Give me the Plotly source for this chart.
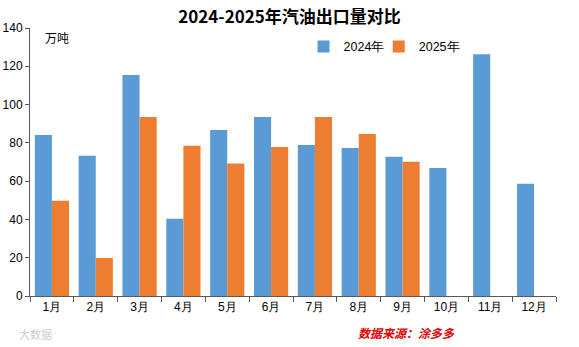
import plotly.graph_objects as go

months = ["1月", "2月", "3月", "4月", "5月", "6月", "7月", "8月", "9月", "10月", "11月", "12月"]
y2024 = [84.1, 73.2, 115.4, 40.4, 86.7, 93.5, 78.9, 77.3, 72.7, 66.9, 126.3, 58.6]
y2025 = [49.7, 19.9, 93.5, 78.5, 69.2, 77.9, 93.5, 84.6, 70.1, None, None, None]
yticks = [0, 20, 40, 60, 80, 100, 120, 140]

fig = go.Figure()
fig.add_bar(x=months, y=y2024, name="2024年", marker_color="#5B9BD5", marker_line_width=0,
            legend="legend")
fig.add_bar(x=months, y=y2025, name="2025年", marker_color="#ED7D31", marker_line_width=0,
            legend="legend2")

leg = dict(orientation="h", y=0.93, xanchor="left", yanchor="middle",
           font=dict(size=12.5), itemwidth=30, bgcolor="rgba(0,0,0,0)")
fig.update_layout(
    width=579, height=347,
    margin=dict(l=30, r=23, t=28, b=51),
    paper_bgcolor="white", plot_bgcolor="white",
    barmode="group", bargap=0.22, bargroupgap=0,
    font=dict(family="Liberation Sans, Arial, sans-serif", size=12, color="#000"),
    title=dict(text="<b>2024-2025年汽油出口量对比</b>", x=0.5, xanchor="center",
               y=0.952, yanchor="middle",
               font=dict(family="Noto Sans CJK SC", size=17, color="#000")),
    legend=dict(leg, x=0.52),
    legend2=dict(leg, x=0.663),
    showlegend=True,
)
fig.update_xaxes(type="category", showline=True, linecolor="#595959", linewidth=1,
                 ticks="outside", tickson="boundaries", ticklen=5, tickcolor="#595959",
                 showgrid=False, tickfont=dict(size=12), automargin=False)
fig.update_yaxes(range=[0, 140], tickvals=yticks, showline=True, linecolor="#595959",
                 linewidth=1, ticks="outside", ticklen=4, tickcolor="#595959",
                 showgrid=False, zeroline=False, tickfont=dict(size=12), automargin=False)

fig.add_annotation(text="万吨", xref="paper", yref="paper", x=0.024, y=0.965,
                   xanchor="left", yanchor="middle", showarrow=False,
                   font=dict(family="Noto Sans CJK SC", size=12, color="#000"))
fig.add_annotation(text="<b><i>数据来源：涂多多</i></b>", xref="paper", yref="paper",
                   x=0.62, y=-0.135, xanchor="left", yanchor="middle", showarrow=False,
                   font=dict(family="Noto Sans CJK SC", size=12, color="#E00000"))
fig.add_annotation(text="大数据", xref="paper", yref="paper",
                   x=-0.025, y=-0.14, xanchor="left", yanchor="middle", showarrow=False,
                   font=dict(family="Noto Sans CJK SC", size=11, color="#cccccc"))

fig.write_html("out.html")
